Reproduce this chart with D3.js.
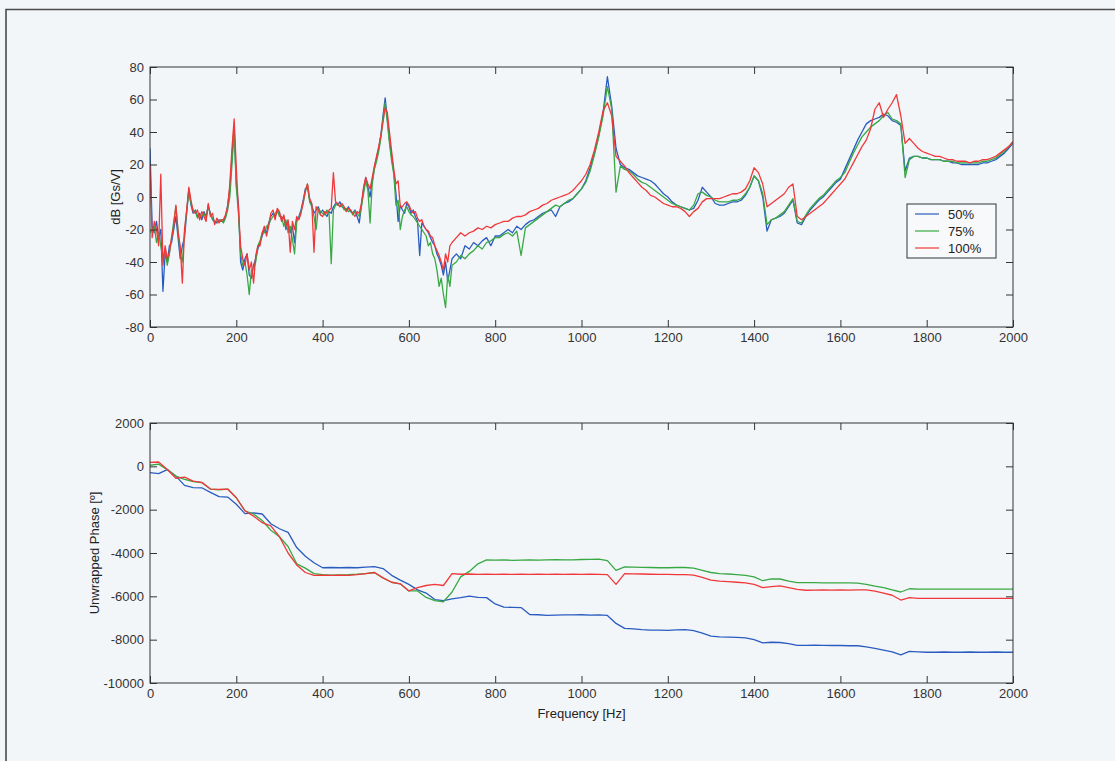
<!DOCTYPE html>
<html>
<head>
<meta charset="utf-8">
<script src="https://cdn.jsdelivr.net/npm/d3@7"></script>
<style>
  body { margin: 0; background: #f3f6f9; }
  svg { display: block; }
  .tick text { font-family: "Liberation Sans", Arial, sans-serif; font-size: 13px; fill: #333; }
  .lbl { font-family: "Liberation Sans", Arial, sans-serif; font-size: 13px; fill: #222; }
</style>
</head>
<body>
<svg id="fig" width="1115" height="761"></svg>
<script>
// frequency grid (Hz) for the magnitude plot
const freqTop = d3.range(0, 700, 5).concat(d3.range(700, 2001, 10));

// magnitude, dB [Gs/V]
const dbBlue = [
  30,-18,-22,-15,-25,-20,-58,-35,-40,-30,-28,-20,-12,-25,-38,-30,-25,-10,5,-5,-10,
  -8,-12,-10,-14,-9,-12,-6,-10,-14,-15,-16,-14,-15,-15,-12,-5,
  5,25,44,8,-5,-40,-45,-38,-35,-48,-50,-42,-38,-32,-28,-24,
  -20,-22,-16,-12,-10,-12,-9,-10,-14,-12,-20,-15,-22,-18,-28,-14,
  -12,-8,-2,5,6,-2,-5,-10,-8,-6,-10,-8,-10,-12,-9,-10,
  -6,-4,-5,-3,-6,-7,-8,-6,-9,-10,-8,-12,-16,-5,5,12,
  6,0,10,18,24,30,38,50,61,48,35,25,15,2,-15,-5,
  -8,-10,-4,-6,-10,-8,-12,-15,-36,-16,-18,-20,-22,-25,-28,-30,-35,-38,-42,-48,-40,-52,-45,-38,
  -35,-38,-30,-32,-28,-30,-27,-25,-30,-24,
  -24,-22,-20,-22,-18,-20,-17,-15,-14,-12,
  -10,-9,-8,-12,-6,-4,-3,-1,2,5,
  10,18,27,38,52,74,56,30,20,18,
  17,15,13,12,11,10,8,5,2,0,
  -3,-5,-6,-7,-8,-7,-2,6,3,0,
  -4,-5,-5,-4,-3,-3,-2,1,6,13,
  10,0,-21,-14,-13,-12,-10,-6,-2,-16,
  -17,-12,-8,-5,-2,0,3,6,9,11,
  17,23,29,35,40,45,47,48,49,51,
  50,47,46,44,16,24,25,25,24,24,
  23,23,23,22,22,21,21,20,20,20,
  20,20,21,21,22,23,25,27,30,33
];
const dbGreen = [
  -22,-20,-18,-28,-22,-30,-38,-32,-42,-35,-25,-15,-6,-20,-35,-40,-22,-8,3,-4,-8,
  -9,-13,-11,-12,-10,-13,-5,-11,-13,-16,-15,-15,-14,-16,-13,-8,
  0,20,40,6,-10,-35,-42,-40,-48,-60,-45,-44,-40,-30,-27,-22,
  -22,-18,-17,-14,-12,-10,-8,-12,-12,-18,-14,-22,-18,-26,-35,-15,
  -13,-9,-4,3,8,-3,-6,-12,-20,-7,-9,-10,-11,-8,-10,-41,
  -8,-5,-4,-6,-5,-8,-7,-9,-8,-11,-9,-10,-12,-6,2,10,
  4,-16,8,17,22,28,36,48,58,46,33,22,14,-5,-2,-20,
  -12,-8,-6,-9,-11,-12,-14,-16,-18,-20,-22,-24,-30,-28,-35,-38,-45,-55,-50,-60,-68,-48,-55,-42,
  -40,-36,-38,-35,-33,-30,-32,-28,-27,-25,
  -25,-23,-22,-24,-21,-36,-19,-17,-15,-13,
  -11,-9,-7,-5,-6,-4,-2,-1,2,5,
  9,16,26,37,50,68,54,3,19,17,
  16,14,11,9,8,6,4,2,0,-2,
  -4,-5,-6,-7,-8,-5,2,3,1,0,
  -2,-3,-3,-3,-2,-2,-1,2,6,13,
  10,2,-17,-14,-13,-11,-9,-5,-1,-15,
  -16,-11,-7,-4,-1,1,4,7,10,12,
  15,21,27,32,37,40,43,45,47,50,
  52,48,47,45,12,23,25,25,24,24,
  23,23,23,22,22,22,21,21,21,21,
  21,21,22,22,23,24,26,28,31,34
];
const dbRed = [
  20,-25,-15,-20,-30,14,-42,-30,-38,-34,-25,-18,-5,-22,-30,-53,-20,-8,6,-2,-9,
  -10,-8,-14,-9,-12,-15,-4,-12,-10,-17,-13,-16,-14,-14,-11,-6,
  8,30,48,18,-8,-30,-38,-42,-35,-45,-40,-53,-36,-30,-30,-22,
  -18,-24,-18,-10,-8,-14,-7,-9,-15,-11,-18,-14,-34,-15,-20,-12,
  -14,-10,-3,4,8,-1,-4,-34,-6,-8,-11,-12,-9,-10,-8,-7,
  15,-3,-4,-6,-4,-6,-9,-7,-8,-10,-12,-9,-10,-4,6,12,
  8,5,12,19,25,31,38,46,55,52,40,28,17,8,10,-6,
  -6,-4,-3,-5,-8,-10,-9,-13,-15,-14,-18,-20,-21,-24,-25,-30,-33,-36,-40,-45,-35,-40,-30,-28,
  -25,-22,-24,-22,-21,-19,-20,-18,-19,-17,
  -16,-15,-15,-13,-12,-12,-11,-9,-8,-7,
  -5,-4,-2,-1,0,1,2,4,7,10,
  14,20,29,40,53,58,50,25,22,19,
  15,12,9,6,4,1,0,-2,-4,-5,
  -6,-6,-7,-9,-12,-9,-7,-3,-1,-1,
  -1,-1,0,1,2,2,3,5,10,18,
  15,8,-6,-4,-2,0,2,6,8,-12,
  -14,-12,-10,-8,-6,-4,-1,2,5,8,
  11,16,21,26,31,35,42,54,58,49,
  54,58,63,50,33,36,33,30,28,27,
  26,25,25,24,23,23,22,22,22,21,
  22,22,23,23,24,25,27,29,31,34
];

// frequency grid (Hz) for the phase plot
const freqBot = d3.range(0, 2001, 20);

// unwrapped phase, degrees
const phBlue = [
  -290,-340,-150,-450,-880,-980,-990,-1200,-1400,-1420,
  -1750,-2180,-2150,-2200,-2650,-2880,-3050,-3750,-4150,-4450,
  -4680,-4670,-4680,-4670,-4680,-4650,-4630,-4720,-5030,-5250,
  -5450,-5700,-5850,-6150,-6200,-6120,-6060,-5990,-6050,-6060,
  -6350,-6500,-6510,-6520,-6840,-6850,-6880,-6870,-6860,-6860,
  -6850,-6870,-6860,-6880,-7250,-7480,-7500,-7540,-7560,-7560,
  -7570,-7550,-7540,-7580,-7700,-7840,-7870,-7880,-7890,-7920,
  -8000,-8150,-8120,-8130,-8180,-8260,-8260,-8250,-8260,-8270,
  -8270,-8280,-8280,-8330,-8400,-8480,-8560,-8700,-8540,-8560,
  -8580,-8580,-8570,-8580,-8580,-8570,-8580,-8580,-8570,-8580,
  -8580
];
const phGreen = [
  50,100,-150,-450,-600,-700,-750,-1050,-1080,-1050,
  -1450,-2050,-2200,-2500,-2950,-3250,-3700,-4500,-4700,-4950,
  -5000,-5020,-5010,-5000,-4980,-4950,-4900,-5150,-5350,-5420,
  -5750,-5750,-6050,-6200,-6250,-5800,-5100,-4850,-4500,-4320,
  -4330,-4320,-4340,-4330,-4320,-4330,-4320,-4310,-4320,-4320,
  -4300,-4290,-4280,-4350,-4800,-4640,-4650,-4660,-4670,-4680,
  -4680,-4670,-4670,-4700,-4800,-4900,-4950,-4970,-5000,-5030,
  -5100,-5280,-5190,-5200,-5300,-5370,-5370,-5370,-5380,-5380,
  -5380,-5380,-5390,-5450,-5530,-5600,-5700,-5800,-5650,-5670,
  -5670,-5670,-5670,-5670,-5670,-5670,-5670,-5670,-5670,-5670,
  -5670
];
const phRed = [
  180,200,-150,-550,-500,-680,-740,-1050,-1060,-1050,
  -1450,-2050,-2300,-2600,-2750,-3250,-4000,-4550,-4900,-5030,
  -5020,-5030,-5020,-5030,-5000,-4950,-4900,-5150,-5350,-5420,
  -5750,-5600,-5500,-5450,-5500,-4950,-4980,-4970,-4990,-4980,
  -4990,-4980,-4990,-4980,-4990,-4980,-4990,-4980,-4990,-4980,
  -4990,-4980,-4990,-5000,-5450,-4950,-4960,-4970,-4980,-4990,
  -4990,-5000,-5000,-5020,-5120,-5250,-5300,-5320,-5350,-5380,
  -5450,-5600,-5550,-5520,-5600,-5680,-5720,-5710,-5700,-5710,
  -5700,-5710,-5700,-5700,-5760,-5850,-5950,-6170,-6060,-6090,
  -6090,-6090,-6090,-6090,-6090,-6090,-6090,-6090,-6090,-6090,
  -6090
];

const seriesNames = ["50%", "75%", "100%"];
const seriesColors = ["#2a5cc0", "#38a844", "#f0383a"];
const freqTicks = d3.range(0, 2001, 200);
const dbTicks = d3.range(-80, 81, 20);
const phTicks = d3.range(-10000, 2001, 2000);

const svg = d3.select("#fig");

// page frame
svg.append("path")
  .attr("d", "M6,761 V9.5 H1115")
  .attr("fill", "none")
  .attr("stroke", "#4a4a4a")
  .attr("stroke-width", 1.6);

function makePanel(box, yDomain, yTicks, xData, ySeries, yLabel, clipId) {
  const width = box.right - box.left;
  const height = box.bottom - box.top;
  const g = svg.append("g").attr("transform", "translate(" + box.left + "," + box.top + ")");

  const x = d3.scaleLinear().domain([0, 2000]).range([0, width]);
  const y = d3.scaleLinear().domain(yDomain).range([height, 0]);
  const fmt = d => String(d);

  g.append("clipPath").attr("id", clipId)
    .append("rect").attr("width", width).attr("height", height);

  // data lines, red drawn last so it sits on top
  const line = d3.line()
    .x((d, i) => x(xData[i]))
    .y(d => y(d));
  ySeries.forEach(function (s, k) {
    g.append("path")
      .datum(s)
      .attr("clip-path", "url(#" + clipId + ")")
      .attr("fill", "none")
      .attr("stroke", seriesColors[k])
      .attr("stroke-width", 1.3)
      .attr("stroke-linejoin", "round")
      .attr("d", line);
  });

  // axes with inward ticks on all four sides
  g.append("g").attr("transform", "translate(0," + height + ")")
    .call(d3.axisBottom(x).tickValues(freqTicks).tickFormat(fmt).tickSizeInner(-7).tickSizeOuter(0).tickPadding(6));
  g.append("g")
    .call(d3.axisTop(x).tickValues(freqTicks).tickFormat("").tickSizeInner(-7).tickSizeOuter(0));
  g.append("g")
    .call(d3.axisLeft(y).tickValues(yTicks).tickFormat(fmt).tickSizeInner(-7).tickSizeOuter(0).tickPadding(6));
  g.append("g").attr("transform", "translate(" + width + ",0)")
    .call(d3.axisRight(y).tickValues(yTicks).tickFormat("").tickSizeInner(-7).tickSizeOuter(0));
  g.selectAll(".domain").remove();
  g.selectAll(".tick line").attr("stroke", "#333");

  g.append("rect")
    .attr("width", width).attr("height", height)
    .attr("fill", "none").attr("stroke", "#333").attr("stroke-width", 1);

  // y axis label
  g.append("text")
    .attr("class", "lbl")
    .attr("text-anchor", "middle")
    .attr("transform", "translate(" + (yLabel.x - box.left) + "," + (height / 2) + ") rotate(-90)")
    .text(yLabel.text);

  return { g: g, x: x, y: y, width: width, height: height };
}

const magPanel = makePanel({ left: 150, right: 1013, top: 67, bottom: 327 },
  [-80, 80], dbTicks, freqTop, [dbBlue, dbGreen, dbRed],
  { x: 120, text: "dB [Gs/V]" }, "clipTop");

const phasePanel = makePanel({ left: 150, right: 1013, top: 423, bottom: 683 },
  [-10000, 2000], phTicks, freqBot, [phBlue, phGreen, phRed],
  { x: 99, text: "Unwrapped Phase [º]" }, "clipBot");

phasePanel.g.append("text")
  .attr("class", "lbl")
  .attr("text-anchor", "middle")
  .attr("x", phasePanel.width / 2)
  .attr("y", phasePanel.height + 35)
  .text("Frequency [Hz]");

// legend
const leg = magPanel.g.append("g").attr("transform", "translate(" + (907 - 150) + "," + (204 - 67) + ")");
leg.append("rect")
  .attr("width", 89).attr("height", 54)
  .attr("fill", "#f7f9fb").attr("stroke", "#333").attr("stroke-width", 1);
seriesNames.forEach(function (name, k) {
  const row = leg.append("g").attr("transform", "translate(0," + (10 + k * 17) + ")");
  row.append("line")
    .attr("x1", 8).attr("x2", 32)
    .attr("stroke", seriesColors[k]).attr("stroke-width", 1.2);
  row.append("text")
    .attr("class", "lbl")
    .attr("x", 41).attr("dy", "0.35em")
    .text(name);
});
</script>
</body>
</html>
